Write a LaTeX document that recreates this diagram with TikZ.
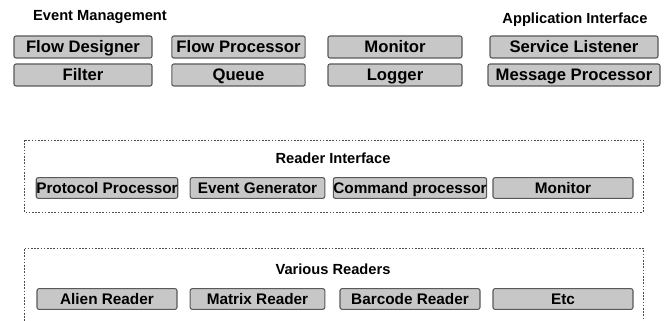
\documentclass[tikz,border=0pt]{standalone}
\usepackage{fontspec}
\setmainfont{Liberation Sans}

\begin{document}
\begin{tikzpicture}[x=0.75pt,y=-0.75pt,
  blk/.style={draw=black!65, fill=black!22, line width=0.8pt, rounded corners=1.5pt,
    minimum height=16.5pt, inner sep=0pt, text height=9pt, text depth=0pt,
    font=\fontsize{12.5}{13}\selectfont\bfseries},
  rblk/.style={blk, minimum height=15.5pt, text height=8.2pt, text depth=0pt,
    font=\fontsize{11.5}{12}\selectfont\bfseries},
  ttl/.style={font=\fontsize{11}{12}\selectfont\bfseries},
  frame/.style={draw=black!70, line width=0.7pt, dash pattern=on 1.2pt off 1.2pt}]
\useasboundingbox (0,0) rectangle (665,321);
\node[ttl] (evm) at (100,17) {Event Management};
\node[ttl] (api) at (575,20) {Application Interface};
\node[blk, minimum width=103.5pt] (fd) at (83,47) {Flow Designer};
\node[blk, minimum width=100pt] (fp) at (238.5,47) {Flow Processor};
\node[blk, minimum width=100.5pt] (mon) at (395,47) {Monitor};
\node[blk, minimum width=126pt] (sl) at (574,47) {Service Listener};
\node[blk, minimum width=103.5pt] (fil) at (83,75) {Filter};
\node[blk, minimum width=100pt] (que) at (238.5,75) {Queue};
\node[blk, minimum width=100.5pt] (log) at (395,75) {Logger};
\node[blk, minimum width=129pt] (mp) at (574,75) {Message Processor};
% reader interface
\draw[frame] (24,140) rectangle (643,212);
\node[ttl] (ri) at (333,158) {Reader Interface};
\node[rblk, minimum width=105pt] (pp) at (107,188) {Protocol Processor};
\node[rblk, minimum width=101pt] (eg) at (257.5,188) {Event Generator};
\node[rblk, minimum width=105pt] (cp) at (410,188) {Command processor};
\node[rblk, minimum width=105pt] (rmon) at (563,188) {Monitor};
% readers
\draw[frame] (24,321) -- (24,248) -- (643,248) -- (643,321);
\node[ttl] (vr) at (333,269) {Various Readers};
\node[rblk, minimum width=105pt] (ar) at (107,299) {Alien Reader};
\node[rblk, minimum width=101pt] (mr) at (257.5,299) {Matrix Reader};
\node[rblk, minimum width=105pt] (br) at (410,299) {Barcode Reader};
\node[rblk, minimum width=105pt] (etc) at (563,299) {Etc};
\end{tikzpicture}
\end{document}
